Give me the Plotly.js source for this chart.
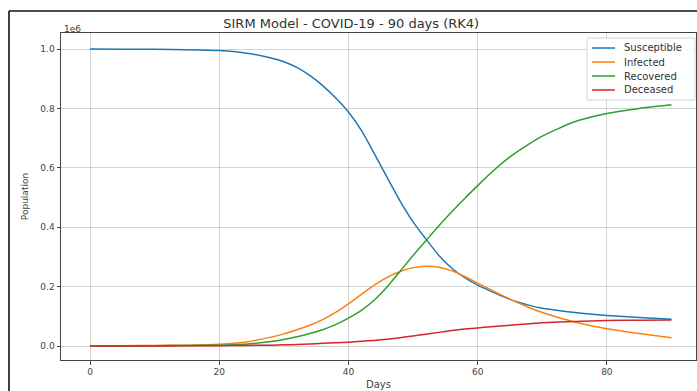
<!DOCTYPE html>
<html>
<head>
<meta charset="utf-8">
<script src="https://cdn.plot.ly/plotly-3.0.1.min.js"></script>
<style>html,body{margin:0;padding:0;background:#fff;overflow:hidden}#chart{width:697px;height:391px}</style>
</head>
<body>
<div id="chart"></div>
<script>
// Days sampled from the reference curves
const days = [0,5,10,15,20,24,28,30,32,34,36,38,40,42,44,46,48,50,52,54,56,58,60,62,65,68,70,75,80,85,90];
// Population values, in units of 1e6
const susceptible = [1.0,0.9995,0.999,0.998,0.995,0.987,0.97,0.957,0.938,0.911,0.877,0.836,0.788,0.726,0.648,0.567,0.488,0.418,0.36,0.305,0.262,0.23,0.205,0.185,0.157,0.137,0.127,0.113,0.103,0.096,0.09];
const infected = [0.001,0.001,0.002,0.003,0.006,0.013,0.03,0.041,0.055,0.07,0.089,0.113,0.142,0.174,0.205,0.231,0.251,0.264,0.269,0.265,0.253,0.234,0.212,0.19,0.158,0.129,0.113,0.081,0.058,0.042,0.028];
const recovered = [0,0,0.001,0.002,0.003,0.006,0.015,0.022,0.031,0.042,0.055,0.072,0.094,0.12,0.155,0.2,0.252,0.305,0.355,0.405,0.452,0.497,0.54,0.582,0.637,0.681,0.707,0.755,0.783,0.8,0.812];
const deceased = [0,0,0,0.001,0.001,0.002,0.003,0.004,0.005,0.007,0.009,0.011,0.013,0.016,0.019,0.023,0.028,0.034,0.04,0.046,0.052,0.057,0.061,0.065,0.07,0.075,0.078,0.083,0.086,0.087,0.088];
const seriesNames = ["Susceptible","Infected","Recovered","Deceased"];
const seriesColors = ["#1f77b4","#ff7f0e","#2ca02c","#d62728"];
const seriesData = [susceptible, infected, recovered, deceased];
const xTicks = [0,20,40,60,80];
const yTicks = [0,0.2,0.4,0.6,0.8,1.0];

const traces = seriesData.map((ys,i)=>({
  x: days, y: ys, type:'scatter', mode:'lines', name: seriesNames[i],
  line:{color: seriesColors[i], width:1.5, shape:'spline', smoothing:0.6}
}));

const W=697,H=391, ml=61, mr=1, mt=33, mb=31;
const pw=W-ml-mr, ph=H-mt-mb;
const px = v => (v-ml)/pw;
const py = v => (H-mb-v)/ph;
const font = {family:'DejaVu Sans, sans-serif', size:9, color:'#444'};
const legFont = {family:'DejaVu Sans, sans-serif', size:10, color:'#333'};

const shapes = [
  {type:'line', xref:'paper', yref:'paper', x0:px(9), x1:px(9), y0:py(11), y1:py(400), line:{color:'#111', width:1.6}},
  {type:'line', xref:'paper', yref:'paper', x0:px(9), x1:px(700), y0:py(11), y1:py(11), line:{color:'#111', width:1.6}},
  // legend frame
  {type:'rect', xref:'paper', yref:'paper', x0:px(587), x1:px(695), y0:py(38), y1:py(100), fillcolor:'rgba(255,255,255,0.85)', line:{color:'#d4d4d4', width:1}}
];
const annotations = [{text:'1e6', xref:'paper', yref:'paper', x:px(62), y:py(29), xanchor:'left', yanchor:'middle', showarrow:false, font:font}];
seriesNames.forEach((n,i)=>{
  const yy = 48 + i*14;
  shapes.push({type:'line', xref:'paper', yref:'paper', x0:px(592), x1:px(615), y0:py(yy), y1:py(yy), line:{color:seriesColors[i], width:1.5}});
  annotations.push({text:n, xref:'paper', yref:'paper', x:px(622), y:py(yy), xanchor:'left', yanchor:'middle', showarrow:false, font:legFont});
});

const layout = {
  width:W, height:H,
  margin:{l:ml,r:mr,t:mt,b:mb,pad:0},
  paper_bgcolor:'#fff', plot_bgcolor:'#fff',
  font: font,
  showlegend:false,
  title:{text:'SIRM Model - COVID-19 - 90 days (RK4)', font:{family:'DejaVu Sans, sans-serif', size:13, color:'#333'}, x:px(381), xanchor:'center', y:(H-23)/H, yanchor:'middle'},
  xaxis:{range:[-4.5,93.8], tickvals:xTicks, ticktext:xTicks.map(String), showgrid:true, gridcolor:'#c8c8c8', gridwidth:0.8,
    zeroline:false, showline:true, mirror:true, linecolor:'#444', linewidth:1, ticks:'outside', ticklen:3.5, tickcolor:'#444',
    tickfont:font, title:{text:'Days', font:{family:'DejaVu Sans, sans-serif', size:10, color:'#444'}, standoff:4}},
  yaxis:{range:[-0.047,1.054], tickvals:yTicks, ticktext:yTicks.map(v=>v.toFixed(1)), showgrid:true, gridcolor:'#c8c8c8', gridwidth:0.8,
    zeroline:false, showline:true, mirror:true, linecolor:'#444', linewidth:1, ticks:'outside', ticklen:3.5, tickcolor:'#444',
    tickfont:font, title:{text:'Population', font:font, standoff:10}},
  annotations: annotations,
  shapes: shapes
};
Plotly.newPlot('chart', traces, layout, {displayModeBar:false, staticPlot:true});
</script>
</body>
</html>
